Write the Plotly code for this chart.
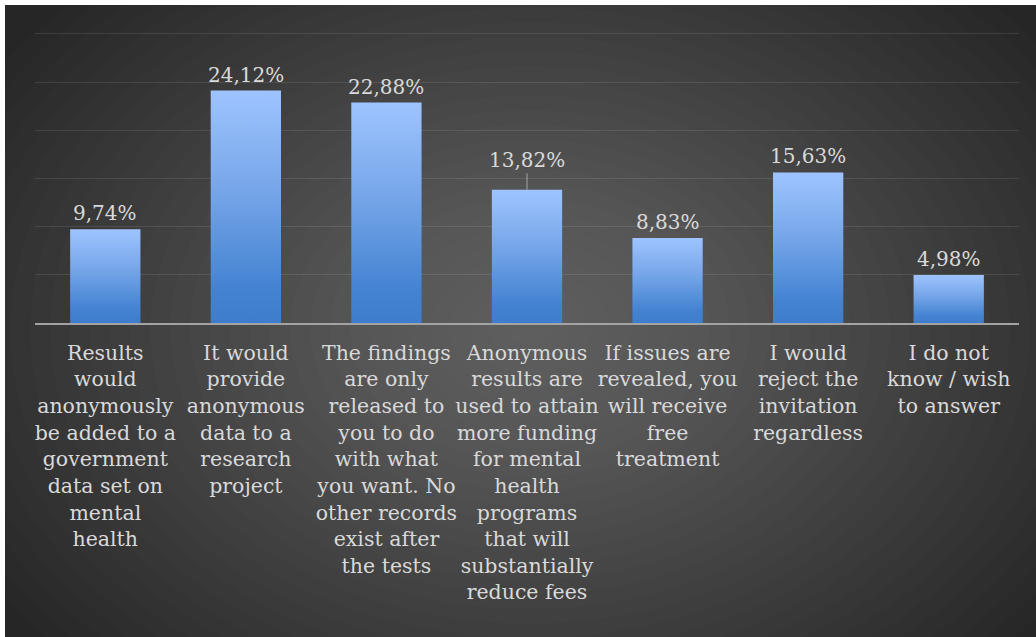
import plotly.graph_objects as go

# ---- data ----
categories = [
    "Results<br>would<br>anonymously<br>be added to a<br>government<br>data set on<br>mental<br>health",
    "It would<br>provide<br>anonymous<br>data to a<br>research<br>project",
    "The findings<br>are only<br>released to<br>you to do<br>with what<br>you want. No<br>other records<br>exist after<br>the tests",
    "Anonymous<br>results are<br>used to attain<br>more funding<br>for mental<br>health<br>programs<br>that will<br>substantially<br>reduce fees",
    "If issues are<br>revealed, you<br>will receive<br>free<br>treatment",
    "I would<br>reject the<br>invitation<br>regardless",
    "I do not<br>know / wish<br>to answer",
]
values = [9.74, 24.12, 22.88, 13.82, 8.83, 15.63, 4.98]
value_labels = ["9,74%", "24,12%", "22,88%", "13,82%", "8,83%", "15,63%", "4,98%"]
y_ticks = [0, 5, 10, 15, 20, 25, 30]

# ---- layout geometry (pixels) ----
W, H = 1036, 637
ML, MR, MT, MB = 35, 17, 32, 314
PW, PH = W - ML - MR, H - MT - MB
Y_MAX = 30.2

def px_x(p):
    return (p - ML) / PW

def px_y(p):
    return (H - MB - p) / PH

FONT = "DejaVu Serif"
TXT = "#d9d9d9"
BAR_HALF = 0.25

fig = go.Figure()

for i, v in enumerate(values):
    fig.add_trace(go.Scatter(
        x=[i - BAR_HALF, i - BAR_HALF, i + BAR_HALF, i + BAR_HALF, i - BAR_HALF],
        y=[0, v, v, 0, 0],
        mode="lines",
        line=dict(width=0, color="rgba(0,0,0,0)"),
        fill="toself",
        fillgradient=dict(
            type="vertical",
            colorscale=[[0, "#3d7dcc"], [0.15, "#4483d2"], [0.6, "#79a8ea"], [1, "#9ec4ff"]],
        ),
        hoverinfo="skip",
        showlegend=False,
    ))

# data labels
for i, (v, lab) in enumerate(zip(values, value_labels)):
    if i == 3:
        fig.add_annotation(x=i, y=v, text=lab, showarrow=True, arrowhead=0,
                           arrowwidth=1, arrowcolor="#a6a6a6", ax=0, ay=-30,
                           font=dict(family=FONT, size=20, color=TXT))
    else:
        fig.add_annotation(x=i, y=v, text=lab, showarrow=False, yanchor="bottom",
                           yshift=2, font=dict(family=FONT, size=20, color=TXT))

# background: dark panel with radial gradient (white border at top/left)
shapes = [dict(type="rect", xref="paper", yref="paper", layer="below",
               x0=px_x(5), x1=px_x(W + 2), y0=px_y(5), y1=px_y(H + 2),
               fillcolor="#262626", line=dict(width=0))]
cx, cy = 530, 330
N = 32
for k in range(N):
    f = 1 - k / N
    rx, ry = 640 * f, 470 * f
    shapes.append(dict(type="circle", xref="paper", yref="paper", layer="below",
                       x0=px_x(cx - rx), x1=px_x(cx + rx),
                       y0=px_y(cy + ry), y1=px_y(cy - ry),
                       fillcolor="rgba(255,255,255,0.0105)", line=dict(width=0)))

fig.update_layout(
    width=W, height=H,
    margin=dict(l=ML, r=MR, t=MT, b=MB, pad=0, autoexpand=False),
    paper_bgcolor="white",
    plot_bgcolor="rgba(0,0,0,0)",
    shapes=shapes,
    showlegend=False,
    font=dict(family=FONT, size=20, color=TXT),
    xaxis=dict(
        range=[-0.5, len(values) - 0.5],
        tickvals=list(range(len(values))),
        ticktext=categories,
        tickangle=0,
        automargin=False,
        tickfont=dict(family=FONT, size=20.5, color=TXT),
        ticks="outside", ticklen=10, tickcolor="rgba(0,0,0,0)",
        showgrid=False, zeroline=False,
        showline=True, linecolor="#a3a3a3", linewidth=2,
        fixedrange=True,
    ),
    yaxis=dict(
        range=[0, Y_MAX],
        tickvals=y_ticks,
        showticklabels=False,
        automargin=False,
        showgrid=True, gridcolor="rgba(255,255,255,0.1)", gridwidth=1,
        zeroline=False, showline=False,
        fixedrange=True,
    ),
)

fig.write_html(
    "out.html",
    config={"displayModeBar": False},
    post_script="document.body.style.margin='0px';document.body.style.overflow='hidden';",
)
